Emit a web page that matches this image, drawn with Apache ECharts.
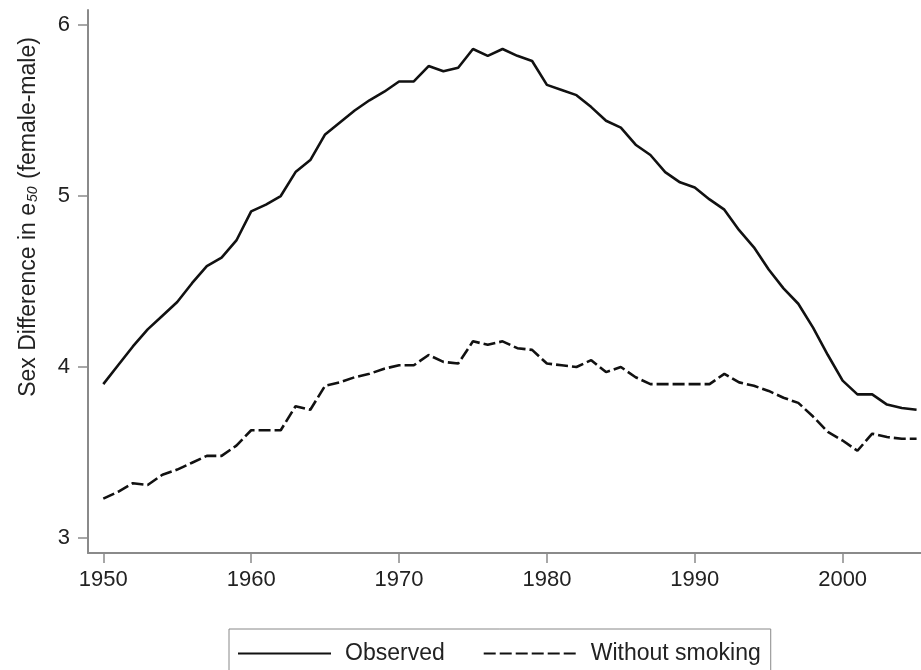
<!DOCTYPE html>
<html>
<head>
<meta charset="utf-8">
<script src="https://cdn.jsdelivr.net/npm/echarts@6/dist/echarts.min.js"></script>
<style>
html,body{margin:0;padding:0;background:#fff;}
#chart{width:921px;height:670px;}
</style>
</head>
<body>
<div id="chart"></div>
<script>
const years = [];
for (let y = 1950; y <= 2005; y++) years.push(y);

const observed = [
  3.90, 4.01, 4.12, 4.22, 4.30, 4.38, 4.49, 4.59, 4.64, 4.74,
  4.91, 4.95, 5.00, 5.14, 5.21, 5.36, 5.43, 5.50, 5.56, 5.61,
  5.67, 5.67, 5.76, 5.73, 5.75, 5.86, 5.82, 5.86, 5.82, 5.79,
  5.65, 5.62, 5.59, 5.52, 5.44, 5.40, 5.30, 5.24, 5.14, 5.08,
  5.05, 4.98, 4.92, 4.80, 4.70, 4.57, 4.46, 4.37, 4.23, 4.07,
  3.92, 3.84, 3.84, 3.78, 3.76, 3.75
];

const withoutSmoking = [
  3.23, 3.27, 3.32, 3.31, 3.37, 3.40, 3.44, 3.48, 3.48, 3.54,
  3.63, 3.63, 3.63, 3.77, 3.75, 3.89, 3.91, 3.94, 3.96, 3.99,
  4.01, 4.01, 4.07, 4.03, 4.02, 4.15, 4.13, 4.15, 4.11, 4.10,
  4.02, 4.01, 4.00, 4.04, 3.97, 4.00, 3.94, 3.90, 3.90, 3.90,
  3.90, 3.90, 3.96, 3.91, 3.89, 3.86, 3.82, 3.79, 3.71, 3.62,
  3.57, 3.51, 3.61, 3.59, 3.58, 3.58
];

const xTicks = [1950, 1960, 1970, 1980, 1990, 2000];
const yTicks = [3, 4, 5, 6];
const seriesNames = ['Observed', 'Without smoking'];

const FONT = 'Liberation Sans, Arial, Helvetica, sans-serif';
const AXIS_GRAY = '#8a8a8a';

const chart = echarts.init(document.getElementById('chart'));
chart.setOption({
  animation: false,
  backgroundColor: '#fff',
  grid: { left: 88, right: 0, top: 10, bottom: 117, containLabel: false },
  xAxis: {
    type: 'value',
    min: 1948.965,
    max: 2005.3,
    axisLine: { show: true, lineStyle: { color: AXIS_GRAY, width: 2 } },
    axisTick: { show: true, customValues: xTicks, length: 10, lineStyle: { color: AXIS_GRAY, width: 1.5 } },
    axisLabel: { customValues: xTicks, margin: 16, color: '#222', fontSize: 22, fontFamily: FONT,
                 formatter: v => String(Math.round(v)) },
    splitLine: { show: false }
  },
  yAxis: {
    type: 'value',
    min: 2.912,
    max: 6.088,
    axisLine: { show: true, lineStyle: { color: AXIS_GRAY, width: 2 } },
    axisTick: { show: true, customValues: yTicks, length: 10, lineStyle: { color: AXIS_GRAY, width: 1.5 } },
    axisLabel: { customValues: yTicks, margin: 18, color: '#222', fontSize: 22, fontFamily: FONT,
                 formatter: v => String(Math.round(v)) },
    splitLine: { show: false }
  },
  legend: {
    left: 229,
    top: 629,
    orient: 'horizontal',
    data: seriesNames,
    itemWidth: 93,
    itemHeight: 14,
    itemGap: 38,
    padding: [13, 10, 13, 8],
    borderColor: '#888',
    borderWidth: 1,
    borderRadius: 0,
    itemStyle: { opacity: 0 },
    textStyle: { color: '#222', fontSize: 23, fontFamily: FONT, padding: [0, 0, 0, 9] }
  },
  graphic: [{
    type: 'text',
    x: 26,
    y: 217,
    rotation: Math.PI / 2,
    style: {
      text: '{a|Sex Difference in e}{s|50}{a| (female-male)}',
      align: 'center',
      verticalAlign: 'middle',
      fill: '#222',
      rich: {
        a: { fontSize: 23, fontFamily: FONT, fill: '#222', lineHeight: 28, verticalAlign: 'bottom' },
        s: { fontSize: 14, fontStyle: 'italic', fontFamily: FONT, fill: '#222', lineHeight: 22, verticalAlign: 'bottom', padding: [0, 1, 0, 1] }
      }
    }
  }],
  series: [
    {
      name: seriesNames[0],
      type: 'line',
      data: years.map((y, i) => [y, observed[i]]),
      symbol: 'none',
      lineStyle: { color: '#111', width: 2.6, type: 'solid' },
      itemStyle: { color: '#111' }
    },
    {
      name: seriesNames[1],
      type: 'line',
      data: years.map((y, i) => [y, withoutSmoking[i]]),
      symbol: 'none',
      lineStyle: { color: '#111', width: 2.6, type: [12, 4] },
      itemStyle: { color: '#111' }
    }
  ]
});
</script>
</body>
</html>
